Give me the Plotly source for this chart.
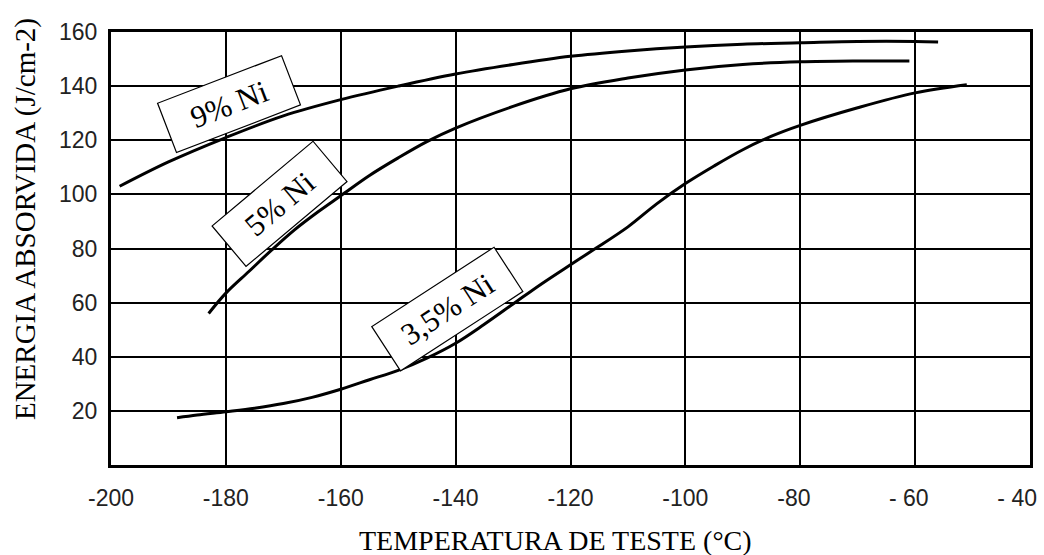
import plotly.graph_objects as go

# Charpy absorbed energy vs test temperature for nickel steels
temp_9ni = [-198.5, -190, -180, -170, -160, -150, -140, -130, -120, -110, -100, -90, -80, -70, -60, -56]
energy_9ni = [103, 112, 121, 129, 135, 140, 144.5, 148, 151, 153, 154.5, 155.5, 156, 156.5, 156.5, 156.3]

temp_5ni = [-183, -180, -176, -172, -168, -164, -160, -155, -150, -145, -140, -130, -120, -110, -100, -90, -80, -70, -61]
energy_5ni = [56, 63.5, 71.5, 79.5, 87, 93.5, 99.5, 107, 113.5, 119.5, 124.5, 132.5, 139, 143, 146, 148, 149, 149.3, 149.3]

temp_35ni = [-188.5, -185, -180, -175, -170, -165, -160, -155, -150, -145, -140, -135, -130, -125, -120, -116,
             -110, -105, -100, -95, -90, -85, -80, -70, -60, -51]
energy_35ni = [17.5, 18.5, 19.7, 21, 22.7, 25, 28, 31.5, 35, 39.5, 45, 52, 59.5, 67, 74, 79.5,
               88, 96.5, 104, 110.5, 116.5, 121.5, 125.5, 132, 137.5, 140.5]

x_ticks = [-200, -180, -160, -140, -120, -100, -80, -60]
x_tick_text = ["-200", "-180", "-160", "-140", "-120", "-100", "-80\u00a0\u00a0", "- 60\u00a0\u00a0"]
x_end_tick = [-40]
x_end_text = ["- 40"]
y_ticks = [20, 40, 60, 80, 100, 120, 140, 160]

# curve labels: text, anchor point (x, y), angle, box width
labels = [
    ("9% Ni", -179.4, 133.4, -21, 132),
    ("5% Ni", -170.7, 96.5, -40, 131),
    ("3,5% Ni", -141.4, 57.5, -33, 145),
]

fig = go.Figure()
for tx, ey in [(temp_9ni, energy_9ni), (temp_5ni, energy_5ni), (temp_35ni, energy_35ni)]:
    fig.add_trace(go.Scatter(x=tx, y=ey, mode="lines", line=dict(color="black", width=3, shape="spline"),
                             showlegend=False, hoverinfo="skip"))
# empty trace so the overlaying axis carrying the last tick label is laid out
fig.add_trace(go.Scatter(x=[], y=[], xaxis="x2", yaxis="y", showlegend=False, hoverinfo="skip"))

for text, lx, ly, ang, w in labels:
    fig.add_annotation(x=lx, y=ly, xref="x", yref="y", text=text, showarrow=False, textangle=ang,
                       font=dict(family="Liberation Serif", size=31, color="black"),
                       bgcolor="white", bordercolor="black", borderwidth=1.2, borderpad=0,
                       width=w, height=52, xanchor="center", yanchor="middle")

serif = "Liberation Serif"
fig.add_annotation(text="ENERGIA ABSORVIDA (J/cm-2)", xref="paper", yref="paper",
                   x=-0.0936, y=0.568, textangle=-90, showarrow=False,
                   font=dict(family=serif, size=29, color="black"), xanchor="center", yanchor="middle")
fig.add_annotation(text="TEMPERATURA DE TESTE (°C)", xref="paper", yref="paper",
                   x=0.484, y=-0.174, showarrow=False,
                   font=dict(family=serif, size=28, color="black"), xanchor="center", yanchor="middle")

tick_font = dict(family="Liberation Sans", size=23, color="#222")
fig.update_layout(
    xaxis=dict(range=[-200, -40], tickvals=x_ticks, ticktext=x_tick_text, tickfont=tick_font,
               showgrid=True, gridcolor="black", gridwidth=1.5, zeroline=False,
               showline=True, linecolor="black", linewidth=3, mirror=True, automargin=False,
               ticks="", ticklabelstandoff=10),
    xaxis2=dict(range=[-200, -40], overlaying="x", anchor="y", side="bottom",
                tickvals=x_end_tick, ticktext=x_end_text, tickfont=tick_font,
                ticklabelposition="outside left", ticklabelshift=7, ticklabelstandoff=17,
                showgrid=False, zeroline=False, showline=False, automargin=False, ticks=""),
    yaxis=dict(range=[0, 160], tickvals=y_ticks, tickfont=tick_font,
               showgrid=True, gridcolor="black", gridwidth=1.5, zeroline=False,
               showline=True, linecolor="black", linewidth=3, mirror=True, automargin=False,
               ticks="", ticklabelstandoff=6),
    width=1044, height=555, margin=dict(l=111, r=14, t=32, b=90, autoexpand=False),
    plot_bgcolor="white", paper_bgcolor="white",
)

fig.write_html("out.html")
